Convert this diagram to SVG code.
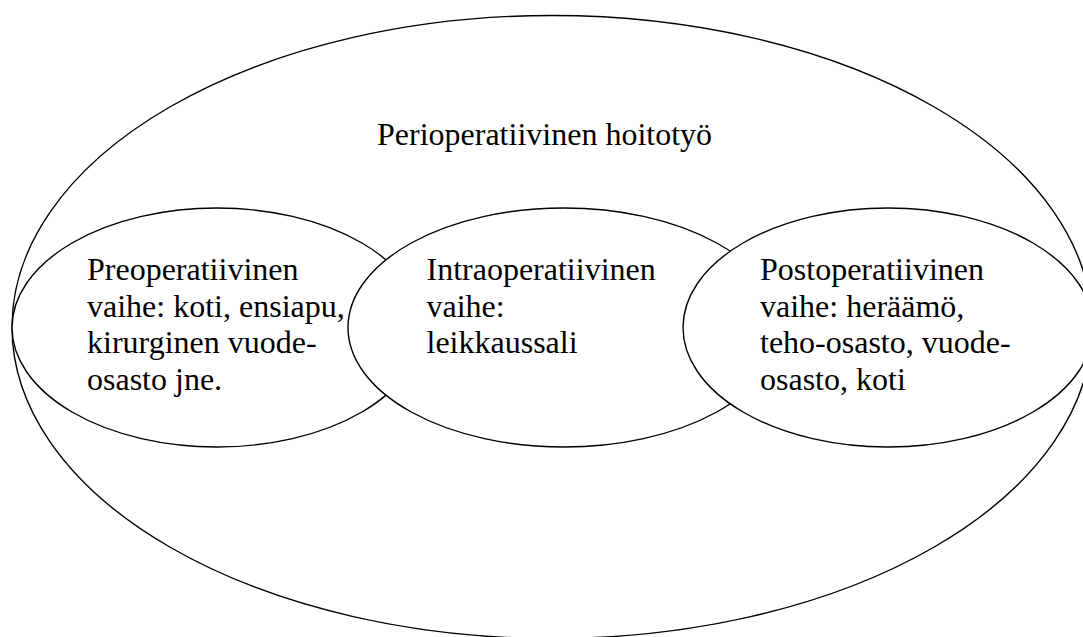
<svg xmlns="http://www.w3.org/2000/svg" width="1083" height="637" viewBox="0 0 1083 637">
  <style>
    .shape { fill: #ffffff; stroke: #000000; stroke-width: 1.4; }
    .label { font-family: "Liberation Serif", "Times New Roman", serif; font-size: 32px; fill: #000000; }
  </style>
  <rect x="0" y="0" width="1083" height="637" fill="#ffffff"/>
  <g id="perioperatiivinen">
    <ellipse class="shape" cx="552" cy="327" rx="540" ry="311.5"/>
    <text class="label" x="377" y="145">Perioperatiivinen hoitotyö</text>
  </g>
  <g id="preoperatiivinen">
    <ellipse class="shape" cx="217" cy="327.5" rx="205" ry="119.5"/>
    <text class="label">
      <tspan x="87" y="280">Preoperatiivinen</tspan>
      <tspan x="87" y="316.7">vaihe: koti, ensiapu,</tspan>
      <tspan x="87" y="353.3">kirurginen vuode-</tspan>
      <tspan x="87" y="390">osasto jne.</tspan>
    </text>
  </g>
  <g id="intraoperatiivinen">
    <ellipse class="shape" cx="564" cy="327.5" rx="216" ry="119.5"/>
    <text class="label">
      <tspan x="426.5" y="280">Intraoperatiivinen</tspan>
      <tspan x="426.5" y="316.7">vaihe:</tspan>
      <tspan x="426.5" y="353.3">leikkaussali</tspan>
    </text>
  </g>
  <g id="postoperatiivinen">
    <ellipse class="shape" cx="888" cy="327.5" rx="205" ry="119.5"/>
    <text class="label">
      <tspan x="760" y="280">Postoperatiivinen</tspan>
      <tspan x="760" y="316.7">vaihe: heräämö,</tspan>
      <tspan x="760" y="353.3">teho-osasto, vuode-</tspan>
      <tspan x="760" y="390">osasto, koti</tspan>
    </text>
  </g>
  <g id="connectors"/>
</svg>
